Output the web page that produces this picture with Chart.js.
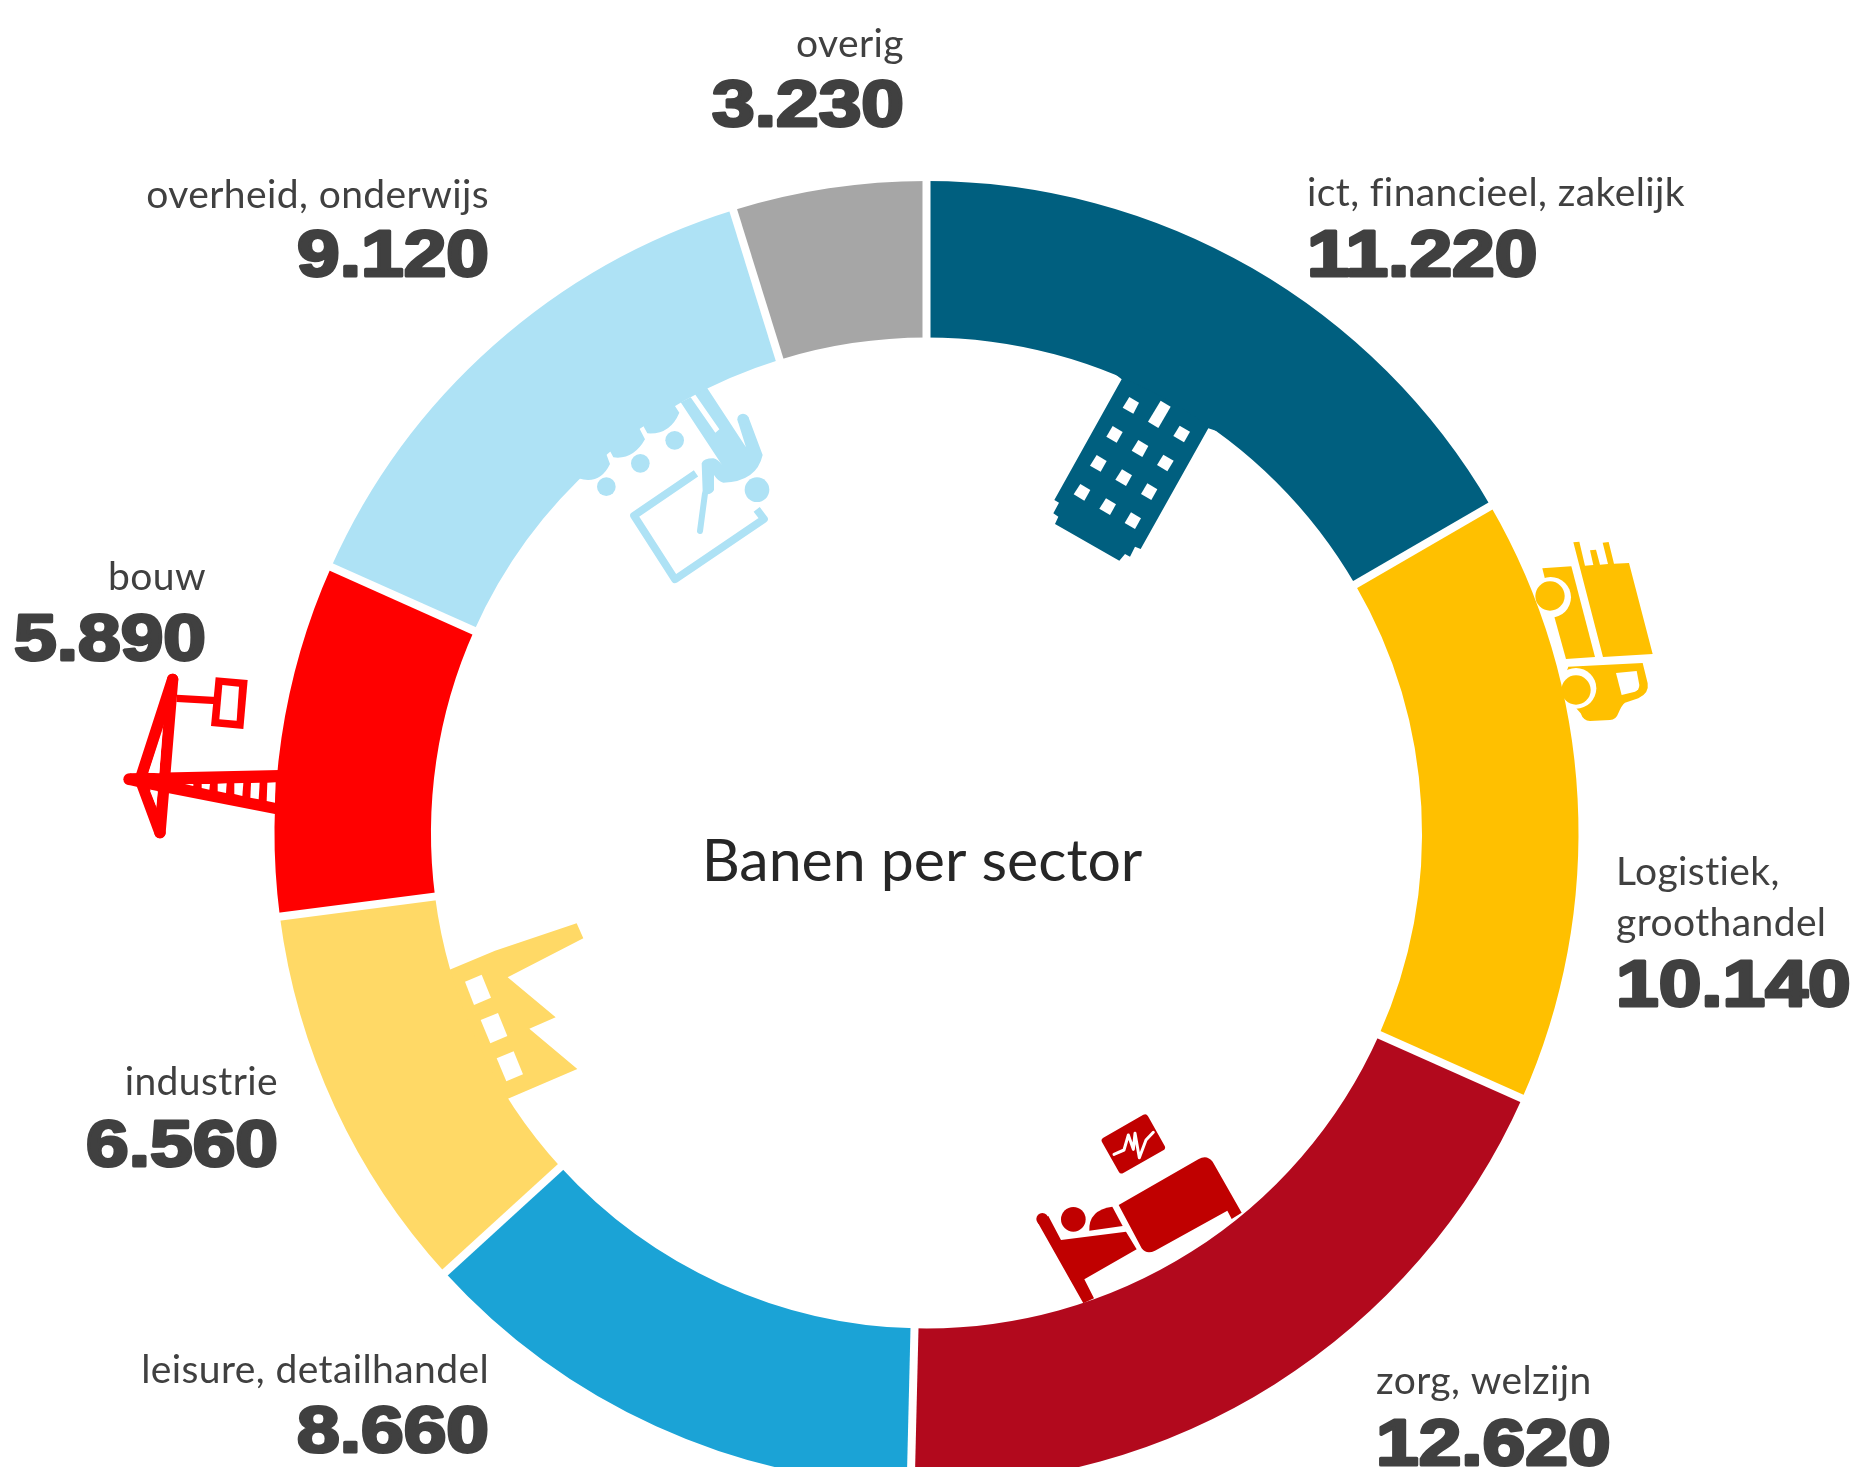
<!DOCTYPE html>
<html>
<head>
<meta charset="utf-8">
<title>Banen per sector</title>
<script src="https://cdn.jsdelivr.net/npm/chart.js@4"></script>
<style>
  html, body { margin: 0; padding: 0; width: 1855px; height: 1467px; overflow: hidden; background: #fff; }
  canvas { display: block; }
</style>
</head>
<body>
<canvas id="myChart" width="1855" height="1500"></canvas>
<script>
// data chart
const categories = [
  ["ict, financieel, zakelijk"],
  ["Logistiek,", "groothandel"],
  ["zorg, welzijn"],
  ["leisure, detailhandel"],
  ["industrie"],
  ["bouw"],
  ["overheid, onderwijs"],
  ["overig"],
];
const values = [11220, 10140, 12620, 8660, 6560, 5890, 9120, 3230];
const colors = ["#005F7F", "#FFC000", "#B2091D", "#1BA3D6", "#FFD966", "#FF0000", "#AEE2F5", "#A6A6A6"];

// waar de teksten staan: x, baseline van de laatste labelregel, baseline van het getal
const labelPos = [
  { x: 1307, y: 206, vy: 276, align: "left" },
  { x: 1616, y: 936, vy: 1006, align: "left" },
  { x: 1376, y: 1394, vy: 1465, align: "left" },
  { x: 489, y: 1383, vy: 1452, align: "right" },
  { x: 278, y: 1095, vy: 1166, align: "right" },
  { x: 206, y: 590, vy: 660, align: "right" },
  { x: 489, y: 208, vy: 276, align: "right" },
  { x: 904, y: 57, vy: 126, align: "right" },
];

const formatNl = (v) => String(v).replace(/\B(?=(\d{3})+$)/g, ".");

function poly(ctx, pts, color) {
  ctx.fillStyle = color;
  ctx.beginPath();
  pts.forEach((p, i) => (i ? ctx.lineTo(p[0], p[1]) : ctx.moveTo(p[0], p[1])));
  ctx.closePath();
  ctx.fill();
}
function circle(ctx, x, y, r, color) {
  ctx.fillStyle = color;
  ctx.beginPath();
  ctx.arc(x, y, r, 0, Math.PI * 2);
  ctx.fill();
}
function line(ctx, pts, width, color, cap) {
  ctx.strokeStyle = color;
  ctx.lineWidth = width;
  ctx.lineCap = cap || "round";
  ctx.lineJoin = "round";
  ctx.beginPath();
  pts.forEach((p, i) => (i ? ctx.lineTo(p[0], p[1]) : ctx.moveTo(p[0], p[1])));
  ctx.stroke();
}
// icoon tekenen in de pixels van een 3x uitsnede
function icon(ctx, ox, oy, draw) {
  ctx.save();
  ctx.translate(ox, oy);
  ctx.scale(1 / 3, 1 / 3);
  draw();
  ctx.restore();
}

function drawBuilding(ctx) {
  const c = colors[0];
  poly(ctx, [[255, 72], [275, 88], [73, 450], [87, 458], [70, 490], [85, 500], [75, 522], [268, 632], [285, 612], [300, 620], [315, 590], [332, 597], [535, 235], [560, 243], [620, 100], [330, 30]], c);
  [
    [[298, 141], [327, 158], [310, 191], [278, 173]],
    [[392, 152], [422, 170], [385, 234], [354, 215]],
    [[449, 227], [480, 245], [462, 277], [430, 258]],
    [[248, 228], [278, 246], [260, 278], [229, 260]],
    [[325, 270], [355, 288], [337, 321], [305, 302]],
    [[400, 314], [431, 332], [412, 364], [381, 345]],
    [[200, 315], [230, 333], [212, 365], [180, 347]],
    [[276, 358], [306, 376], [288, 408], [256, 389]],
    [[352, 400], [382, 418], [364, 450], [333, 432]],
    [[151, 402], [181, 420], [163, 452], [131, 433]],
    [[228, 445], [258, 463], [240, 495], [208, 476]],
    [[303, 487], [333, 505], [315, 537], [284, 519]],
  ].forEach((w) => poly(ctx, w, "#fff"));
}

function drawTruck(ctx) {
  const c = colors[1];
  poly(ctx, [[190, 67], [208, 65], [225, 137], [250, 135], [240, 91], [258, 89], [270, 134], [294, 132], [278, 68], [296, 66], [312, 131], [357, 129], [428, 402], [279, 411]], c);
  poly(ctx, [[97, 145], [184, 139], [255, 411], [168, 417], [133, 290]], c);
  circle(ctx, 122, 232, 61, "#fff");
  circle(ctx, 120, 228, 44, c);
  ctx.fillStyle = c;
  ctx.beginPath();
  ctx.moveTo(175, 440);
  ctx.lineTo(398, 429);
  ctx.lineTo(413, 490);
  ctx.quadraticCurveTo(418, 520, 385, 535);
  ctx.lineTo(345, 548);
  ctx.quadraticCurveTo(335, 555, 325, 580);
  ctx.quadraticCurveTo(318, 600, 300, 600);
  ctx.lineTo(240, 603);
  ctx.quadraticCurveTo(220, 603, 212, 580);
  ctx.lineTo(150, 510);
  ctx.closePath();
  ctx.fill();
  ctx.fillStyle = "#fff";
  ctx.beginPath();
  ctx.moveTo(318, 459);
  ctx.lineTo(380, 453);
  ctx.lineTo(388, 495);
  ctx.quadraticCurveTo(388, 510, 375, 515);
  ctx.lineTo(335, 525);
  ctx.closePath();
  ctx.fill();
  circle(ctx, 198, 505, 61, "#fff");
  circle(ctx, 198, 510, 44, c);
}

function drawBed(ctx) {
  const c = "#C00000";
  poly(ctx, [[52, 395], [85, 378], [123, 450], [318, 425], [350, 478], [193, 568], [222, 625], [190, 640]], c);
  circle(ctx, 67, 387, 18, c);
  circle(ctx, 160, 388, 37, c);
  ctx.fillStyle = c;
  ctx.beginPath();
  ctx.moveTo(208, 422);
  ctx.quadraticCurveTo(205, 360, 277, 350);
  ctx.lineTo(308, 408);
  ctx.closePath();
  ctx.fill();
  ctx.beginPath();
  ctx.moveTo(296, 345);
  ctx.lineTo(535, 208);
  ctx.quadraticCurveTo(560, 192, 578, 215);
  ctx.lineTo(665, 368);
  ctx.lineTo(635, 387);
  ctx.lineTo(622, 362);
  ctx.lineTo(405, 482);
  ctx.quadraticCurveTo(380, 495, 365, 475);
  ctx.closePath();
  ctx.fill();
  poly(ctx, [[255, 152], [375, 83], [425, 172], [305, 240]], c);
  line(ctx, [[255, 152], [375, 83], [425, 172], [305, 240], [255, 152]], 20, c);
  line(ctx, [[282, 193], [312, 180], [325, 135], [340, 178], [345, 130], [358, 203], [378, 150], [400, 127]], 9, "#fff");
}

function drawFactory(ctx) {
  const c = colors[4];
  poly(ctx, [[57, 210], [195, 152], [440, 70], [460, 115], [233, 232], [377, 352], [298, 386], [442, 507], [232, 597], [272, 660], [100, 660], [0, 300]], c);
  poly(ctx, [[105, 245], [155, 224], [183, 293], [132, 315]], "#fff");
  poly(ctx, [[152, 360], [204, 339], [232, 408], [181, 430]], "#fff");
  poly(ctx, [[200, 475], [251, 454], [279, 523], [229, 544]], "#fff");
}

function drawCrane(ctx) {
  const c = colors[5];
  poly(ctx, [[60, 340], [510, 330], [510, 465], [100, 385], [60, 376]], c);
  circle(ctx, 58, 358, 18, c);
  line(ctx, [[188, 58], [95, 345]], 34, c);
  line(ctx, [[95, 370], [150, 518]], 34, c);
  line(ctx, [[188, 58], [150, 518]], 34, c);
  line(ctx, [[200, 115], [320, 122]], 22, c, "butt");
  poly(ctx, [[317, 52], [413, 60], [400, 207], [303, 198]], c);
  poly(ctx, [[337, 75], [387, 80], [380, 182], [328, 178]], "#fff");
  poly(ctx, [[116, 338], [157, 215], [148, 340]], "#fff");
  poly(ctx, [[120, 392], [143, 396], [138, 437]], "#fff");
  poly(ctx, [[225, 372], [250, 372], [250, 378]], "#fff");
  poly(ctx, [[275, 372], [300, 372], [298, 389], [275, 384]], "#fff");
  poly(ctx, [[323, 371], [350, 370], [348, 399], [323, 394]], "#fff");
  poly(ctx, [[373, 370], [400, 369], [397, 408], [373, 402]], "#fff");
  poly(ctx, [[423, 369], [449, 368], [446, 418], [421, 413]], "#fff");
  poly(ctx, [[472, 368], [497, 367], [495, 428], [470, 423]], "#fff");
}

function drawTeacher(ctx) {
  const c = colors[6];
  ctx.fillStyle = c;
  ctx.beginPath();
  ctx.moveTo(0, 380);
  ctx.lineTo(55, 325);
  ctx.quadraticCurveTo(120, 345, 150, 282);
  ctx.lineTo(138, 250);
  ctx.lineTo(150, 243);
  ctx.lineTo(160, 262);
  ctx.quadraticCurveTo(220, 270, 255, 208);
  ctx.lineTo(238, 175);
  ctx.lineTo(250, 168);
  ctx.lineTo(262, 190);
  ctx.quadraticCurveTo(330, 195, 358, 128);
  ctx.lineTo(343, 105);
  ctx.lineTo(358, 97);
  ctx.lineTo(300, 0);
  ctx.lineTo(0, 0);
  ctx.closePath();
  ctx.fill();
  ctx.beginPath();
  ctx.moveTo(362, 97);
  ctx.lineTo(392, 82);
  ctx.lineTo(466, 188);
  ctx.lineTo(478, 178);
  ctx.lineTo(405, 73);
  ctx.lineTo(440, 52);
  ctx.lineTo(558, 232);
  ctx.lineTo(533, 152);
  ctx.lineTo(565, 140);
  ctx.lineTo(608, 255);
  ctx.quadraticCurveTo(590, 335, 490, 338);
  ctx.quadraticCurveTo(475, 335, 462, 315);
  ctx.lineTo(462, 360);
  ctx.quadraticCurveTo(455, 375, 435, 372);
  ctx.lineTo(428, 365);
  ctx.lineTo(425, 280);
  ctx.quadraticCurveTo(430, 265, 460, 265);
  ctx.quadraticCurveTo(475, 268, 486, 285);
  ctx.closePath();
  ctx.fill();
  circle(ctx, 549, 148, 17, c);
  circle(ctx, 591, 359, 37, c);
  circle(ctx, 139, 350, 28, c);
  circle(ctx, 241, 280, 28, c);
  circle(ctx, 344, 211, 28, c);
  line(ctx, [[408, 310], [222, 437], [345, 628], [612, 447], [590, 418]], 23, c, "butt");
  line(ctx, [[435, 370], [420, 483]], 18, c);
}

// iconen komen onder de ring, zodat ze aan de rand vastzitten
const iconPlugin = {
  id: "icons",
  beforeDatasetsDraw(chart) {
    const ctx = chart.ctx;
    icon(ctx, 1030, 350, () => drawBuilding(ctx));
    icon(ctx, 1510, 520, () => drawTruck(ctx));
    icon(ctx, 1020, 1090, () => drawBed(ctx));
    icon(ctx, 430, 900, () => drawFactory(ctx));
    icon(ctx, 110, 660, () => drawCrane(ctx));
    icon(ctx, 560, 370, () => drawTeacher(ctx));
  },
};

// witte streep tussen de segmenten, over de hele ringbreedte even dik
const gapPlugin = {
  id: "gaps",
  afterDatasetsDraw(chart) {
    const ctx = chart.ctx;
    ctx.save();
    ctx.strokeStyle = "#fff";
    ctx.lineWidth = 8;
    ctx.lineCap = "butt";
    chart.getDatasetMeta(0).data.forEach((arc) => {
      const a = arc.startAngle;
      ctx.beginPath();
      ctx.moveTo(arc.x + Math.cos(a) * (arc.innerRadius - 1), arc.y + Math.sin(a) * (arc.innerRadius - 1));
      ctx.lineTo(arc.x + Math.cos(a) * (arc.outerRadius + 1), arc.y + Math.sin(a) * (arc.outerRadius + 1));
      ctx.stroke();
    });
    ctx.restore();
  },
};

const textPlugin = {
  id: "texts",
  afterDraw(chart) {
    const ctx = chart.ctx;
    ctx.save();
    ctx.textBaseline = "alphabetic";
    categories.forEach((lines, i) => {
      const pos = labelPos[i];
      ctx.textAlign = pos.align;
      ctx.fillStyle = "#404040";
      ctx.font = "39px Lato";
      ctx.letterSpacing = "0.4px";
      lines.forEach((t, k) => ctx.fillText(t, pos.x, pos.y - (lines.length - 1 - k) * 51));
      ctx.letterSpacing = "0px";
      // getallen breder en vetter, zoals Arial Black
      ctx.save();
      ctx.translate(pos.x, pos.vy);
      ctx.scale(1.18, 1);
      ctx.font = 'bold 65px "Liberation Sans"';
      ctx.strokeStyle = "#404040";
      ctx.lineWidth = 3;
      ctx.lineJoin = "round";
      ctx.fillText(formatNl(values[i]), 0, 0);
      ctx.strokeText(formatNl(values[i]), 0, 0);
      ctx.restore();
    });
    // titel in het midden
    ctx.textAlign = "center";
    ctx.fillStyle = "#262626";
    ctx.font = "59px Lato";
    ctx.fillText("Banen per sector", 922, 881);
    ctx.restore();
  },
};

const config = {
  type: "doughnut",
  data: {
    labels: categories,
    datasets: [
      {
        data: values,
        backgroundColor: colors,
        borderWidth: 0,
      },
    ],
  },
  options: {
    responsive: false,
    animation: false,
    cutout: "76%",
    layout: { padding: { left: 274.5, right: 276.5, top: 181, bottom: 15 } },
    plugins: {
      legend: { display: false },
      tooltip: { enabled: false },
    },
  },
  plugins: [iconPlugin, gapPlugin, textPlugin],
};

const myChart = new Chart(document.getElementById("myChart"), config);
</script>
</body>
</html>
